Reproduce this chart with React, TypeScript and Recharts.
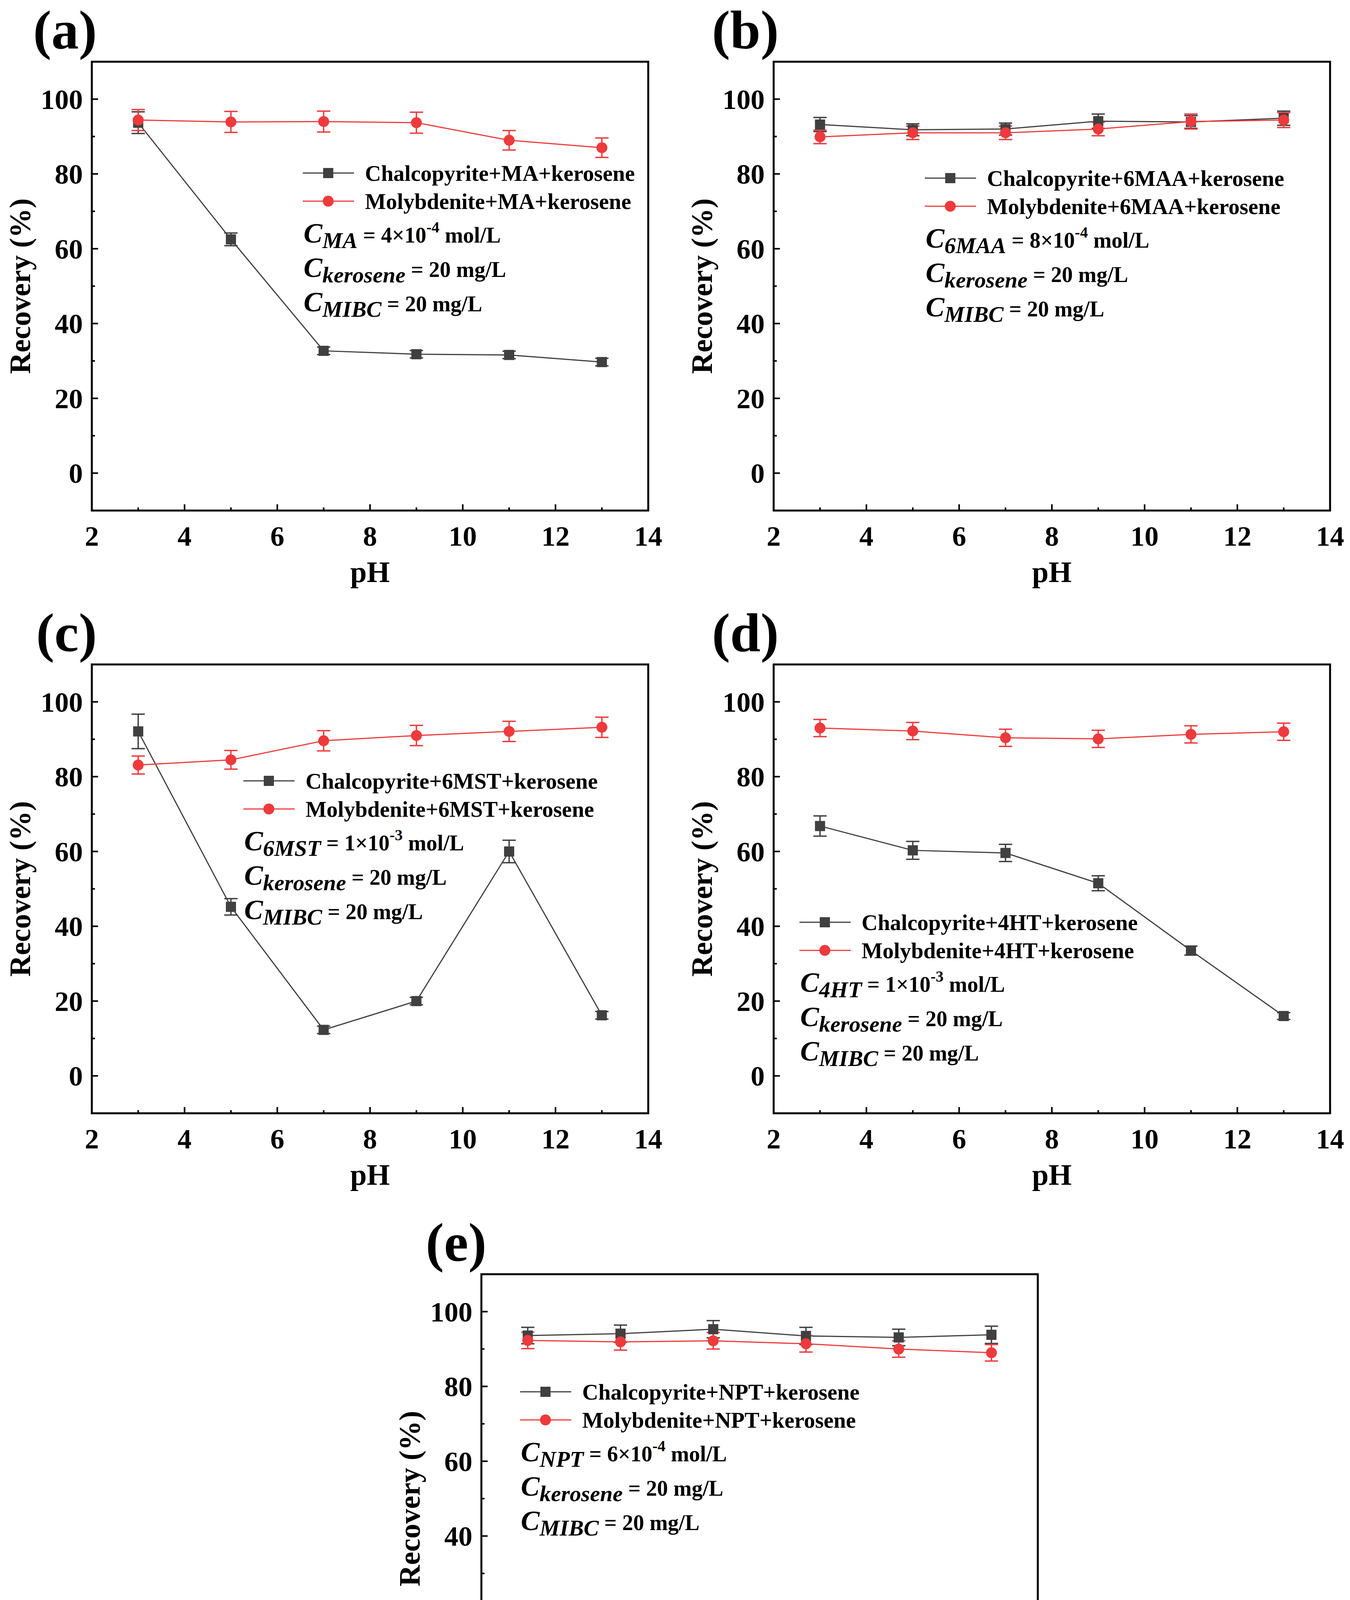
import React from 'react';
import { LineChart, Line, XAxis, YAxis, ErrorBar, ReferenceArea, Legend } from 'recharts';

const PH = [3, 5, 7, 9, 11, 13];
const X_TICKS = [2, 3, 4, 5, 6, 7, 8, 9, 10, 11, 12, 13, 14];
const Y_TICKS = [0, 10, 20, 30, 40, 50, 60, 70, 80, 90, 100];

// (a) MA
const CU_MA = [93.7, 62.5, 32.7, 31.8, 31.6, 29.7];
const CU_MA_ERR = [2.9, 1.7, 1.0, 1.0, 1.0, 1.0];
const MO_MA = [94.4, 93.9, 94.0, 93.7, 89.0, 87.0];
const MO_MA_ERR = [2.8, 2.8, 2.8, 2.8, 2.6, 2.6];

// (b) 6MAA
const CU_6MAA = [93.2, 91.8, 92.0, 94.1, 93.9, 94.9];
const CU_6MAA_ERR = [1.9, 1.6, 1.6, 1.9, 1.7, 1.9];
const MO_6MAA = [89.9, 91.0, 91.0, 92.0, 94.0, 94.4];
const MO_6MAA_ERR = [1.8, 1.8, 1.8, 1.8, 2.0, 2.0];

// (c) 6MST
const CU_6MST = [92.1, 45.2, 12.3, 20.0, 60.0, 16.2];
const CU_6MST_ERR = [4.6, 2.2, 1.0, 1.0, 3.0, 1.0];
const MO_6MST = [83.1, 84.5, 89.6, 91.0, 92.1, 93.2];
const MO_6MST_ERR = [2.4, 2.5, 2.7, 2.7, 2.7, 2.7];

// (d) 4HT
const CU_4HT = [66.8, 60.3, 59.6, 51.5, 33.5, 16.0];
const CU_4HT_ERR = [2.7, 2.4, 2.3, 2.0, 1.2, 0.9];
const MO_4HT = [93.0, 92.2, 90.4, 90.1, 91.3, 92.0];
const MO_4HT_ERR = [2.3, 2.3, 2.3, 2.3, 2.3, 2.3];

// (e) NPT
const CU_NPT = [93.6, 94.1, 95.3, 93.5, 93.1, 93.8];
const CU_NPT_ERR = [2.2, 2.3, 2.3, 2.3, 2.2, 2.3];
const MO_NPT = [92.3, 91.9, 92.2, 91.4, 90.0, 89.0];
const MO_NPT_ERR = [2.2, 2.2, 2.2, 2.2, 2.2, 2.2];

const GRAY = '#404040';
const RED = '#ee3a3c';
const FONT = "'Liberation Serif', 'Times New Roman', serif";

const BOX_W = 1720;
const BOX_H = 1530;
const FRAME_L = 235;
const FRAME_T = 158;
const PLOT_W = 1424;
const PLOT_H = 1149;
const Y_AXIS_W = 100;
const X_AXIS_H = 100;

const panels = [
  { tag: 'a', reagent: 'MA', coef: '4', exp: '-4', cu: CU_MA, cuErr: CU_MA_ERR, mo: MO_MA, moErr: MO_MA_ERR, left: 0, top: 0, lx: 540, ly: 285 },
  { tag: 'b', reagent: '6MAA', coef: '8', exp: '-4', cu: CU_6MAA, cuErr: CU_6MAA_ERR, mo: MO_6MAA, moErr: MO_6MAA_ERR, left: 1745, top: 0, lx: 387, ly: 298 },
  { tag: 'c', reagent: '6MST', coef: '1', exp: '-3', cu: CU_6MST, cuErr: CU_6MST_ERR, mo: MO_6MST, moErr: MO_6MST_ERR, left: 0, top: 1543, lx: 388, ly: 298 },
  { tag: 'd', reagent: '4HT', coef: '1', exp: '-3', cu: CU_4HT, cuErr: CU_4HT_ERR, mo: MO_4HT, moErr: MO_4HT_ERR, left: 1745, top: 1543, lx: 66, ly: 660 },
  { tag: 'e', reagent: 'NPT', coef: '6', exp: '-4', cu: CU_NPT, cuErr: CU_NPT_ERR, mo: MO_NPT, moErr: MO_NPT_ERR, left: 997, top: 3104, lx: 99, ly: 301 },
];

const buildRows = (cu: number[], cuErr: number[], mo: number[], moErr: number[]) =>
  PH.map((ph, i) => ({ ph, cu: cu[i], cuErr: cuErr[i], mo: mo[i], moErr: moErr[i] }));

const YTick = (props: any) => {
  const { x, y, payload } = props;
  const v = payload.value;
  const major = v % 20 === 0;
  return (
    <g>
      <line x1={x} x2={x + (major ? 16 : 8)} y1={y} y2={y} stroke="#000" strokeWidth={4} />
      {major && (
        <text x={x - 23} y={y + 25} textAnchor="end" fontFamily={FONT} fontWeight="bold" fontSize={72} fill="#000">
          {v}
        </text>
      )}
    </g>
  );
};

const XTick = (props: any) => {
  const { x, y, payload } = props;
  const v = payload.value;
  const major = v % 2 === 0;
  return (
    <g>
      <line x1={x} x2={x} y1={y} y2={y - (major ? 16 : 8)} stroke="#000" strokeWidth={4} />
      {major && (
        <text x={x} y={y + 90} textAnchor="middle" fontFamily={FONT} fontWeight="bold" fontSize={72} fill="#000">
          {v}
        </text>
      )}
    </g>
  );
};

const yTitle = (props: any) => {
  const vb = props.viewBox;
  const bx = vb.x + vb.width - 158;
  const cy = vb.y + vb.height / 2;
  return (
    <text x={bx} y={cy} transform={`rotate(-90, ${bx}, ${cy})`} textAnchor="middle" fontFamily={FONT} fontWeight="bold" fontSize={76} fill="#000">
      Recovery (%)
    </text>
  );
};

const xTitle = (props: any) => {
  const vb = props.viewBox;
  return (
    <text x={vb.x + vb.width / 2} y={vb.y + 183} textAnchor="middle" fontFamily={FONT} fontWeight="bold" fontSize={76} fill="#000">
      pH
    </text>
  );
};

const squareDot = (p: any) => (
  <rect key={`sq-${p.index}`} x={p.cx - 13} y={p.cy - 13} width={26} height={26} fill={GRAY} />
);

const makeLegend = (cfg: any) => (props: any) => {
  const payload = props.payload || [];
  const ann = [
    { sub: cfg.reagent, rest: ` = ${cfg.coef}×10`, sup: cfg.exp, tail: ' mol/L' },
    { sub: 'kerosene', rest: ' = 20 mg/L' },
    { sub: 'MIBC', rest: ' = 20 mg/L' },
  ];
  const annY = [155, 243, 331];
  return (
    <svg width={1000} height={440} style={{ overflow: 'visible', display: 'block' }}>
      {payload.map((entry: any, i: number) => {
        const cy = 40 + i * 72;
        const isSquare = entry.type === 'square' || (entry.type !== 'circle' && i === 0);
        return (
          <g key={entry.value}>
            <line x1={0} x2={131} y1={cy} y2={cy} stroke={entry.color} strokeWidth={3} />
            {isSquare ? (
              <rect x={52} y={cy - 13} width={26} height={26} fill={entry.color} />
            ) : (
              <circle cx={65} cy={cy} r={14} fill={entry.color} />
            )}
            <text x={159} y={cy + 20} fontFamily={FONT} fontWeight="bold" fontSize={57} fill="#000">
              {entry.value}
            </text>
          </g>
        );
      })}
      {ann.map((a, i) => (
        <text key={a.sub} x={2} y={40 + annY[i] + 23} fontFamily={FONT} fontWeight="bold" fontSize={56} fill="#000" style={{ whiteSpace: 'pre' }}>
          <tspan fontStyle="italic" fontSize={72}>C</tspan>
          <tspan fontStyle="italic" fontSize={58} dy={14}>{a.sub}</tspan>
          <tspan dy={-14}>{a.rest}</tspan>
          {a.sup && <tspan fontSize={40} dy={-26}>{a.sup}</tspan>}
          {a.tail && <tspan dy={26}>{a.tail}</tspan>}
        </text>
      ))}
    </svg>
  );
};

const Panel = ({ cfg }: { cfg: any }) => {
  const data = buildRows(cfg.cu, cfg.cuErr, cfg.mo, cfg.moErr);
  return (
    <div style={{ position: 'absolute', left: cfg.left, top: cfg.top, width: BOX_W, height: BOX_H }}>
      <LineChart
        width={BOX_W}
        height={BOX_H}
        data={data}
        margin={{
          top: FRAME_T,
          left: FRAME_L - Y_AXIS_W,
          right: BOX_W - FRAME_L - PLOT_W,
          bottom: BOX_H - FRAME_T - PLOT_H - X_AXIS_H,
        }}
      >
        <XAxis
          type="number"
          dataKey="ph"
          domain={[2, 14]}
          ticks={X_TICKS}
          interval={0}
          axisLine={false}
          tickLine={false}
          tickSize={0}
          tickMargin={0}
          height={X_AXIS_H}
          tick={XTick}
          label={xTitle}
        />
        <YAxis
          type="number"
          domain={[-10, 110]}
          ticks={Y_TICKS}
          interval={0}
          axisLine={false}
          tickLine={false}
          tickSize={0}
          tickMargin={0}
          width={Y_AXIS_W}
          tick={YTick}
          label={yTitle}
        />
        <ReferenceArea x1={2} x2={14} y1={-10} y2={110} fill="none" fillOpacity={0} stroke="#000" strokeWidth={5} />
        <Line
          type="linear"
          dataKey="cu"
          name={`Chalcopyrite+${cfg.reagent}+kerosene`}
          stroke={GRAY}
          strokeWidth={3}
          dot={squareDot}
          activeDot={false}
          legendType="square"
          isAnimationActive={false}
        >
          <ErrorBar dataKey="cuErr" width={17} strokeWidth={3.5} stroke={GRAY} isAnimationActive={false} />
        </Line>
        <Line
          type="linear"
          dataKey="mo"
          name={`Molybdenite+${cfg.reagent}+kerosene`}
          stroke={RED}
          strokeWidth={3}
          dot={{ r: 14, fill: RED, stroke: RED, strokeWidth: 0 }}
          activeDot={false}
          legendType="circle"
          isAnimationActive={false}
        >
          <ErrorBar dataKey="moErr" width={17} strokeWidth={3.5} stroke={RED} isAnimationActive={false} />
        </Line>
        <Legend
          layout="vertical"
          align="center"
          verticalAlign="middle"
          content={makeLegend(cfg)}
          wrapperStyle={{ left: FRAME_L + cfg.lx, top: FRAME_T + cfg.ly - 40, width: 1000, height: 440 }}
        />
      </LineChart>
      <svg style={{ position: 'absolute', left: 0, top: 0 }} width={400} height={FRAME_T}>
        <text x={FRAME_L + 13} y={FRAME_T - 34} textAnchor="end" fontFamily={FONT} fontWeight="bold" fontSize={140} fill="#000">
          ({cfg.tag})
        </text>
      </svg>
    </div>
  );
};

export default function App() {
  return (
    <div
      style={{
        position: 'relative',
        width: 3455,
        height: 4637,
        marginLeft: -8,
        marginTop: -8,
        background: '#fff',
        overflow: 'hidden',
      }}
    >
      {panels.map((p) => (
        <Panel key={p.tag} cfg={p} />
      ))}
    </div>
  );
}
